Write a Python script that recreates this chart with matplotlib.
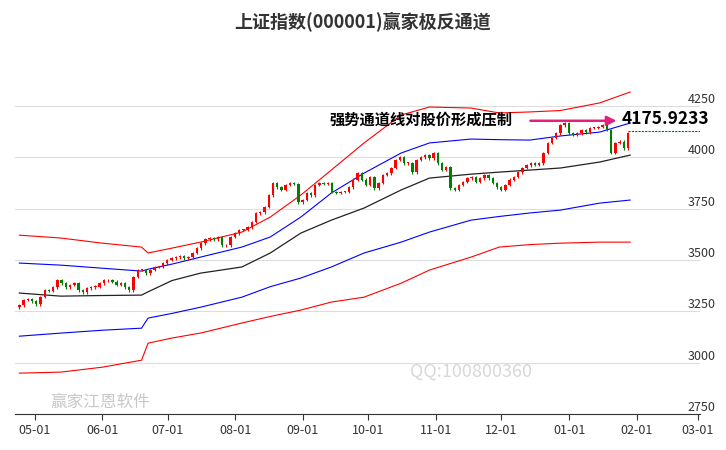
import numpy as np
import pandas as pd
import matplotlib
matplotlib.use('Agg')
import matplotlib.pyplot as plt
import matplotlib.dates as mdates

plt.rcParams['font.family'] = ['Noto Sans CJK SC', 'DejaVu Sans']

title = '上证指数(000001)赢家极反通道'
note = '强势通道线对股价形成压制'
last_label = '4175.9233'

closes = [3280, 3305, 3310, 3300, 3285, 3320, 3353, 3350, 3368, 3402, 3387, 3368, 3378, 3387, 3353,
          3343, 3363, 3368, 3370, 3387, 3402, 3402, 3395, 3378, 3387, 3368, 3353, 3417, 3451, 3451,
          3436, 3451, 3466, 3466, 3485, 3500, 3509, 3514, 3519, 3509, 3514, 3534, 3558, 3582,
          3600, 3607, 3600, 3612, 3572, 3572, 3612, 3631, 3646, 3646, 3660, 3685, 3728, 3733, 3758,
          3816, 3875, 3855, 3841, 3865, 3875, 3870, 3782, 3792, 3826, 3816, 3865, 3875, 3870, 3875,
          3831, 3826, 3831, 3831, 3855, 3890, 3923, 3890, 3865, 3904, 3850, 3875, 3914, 3923, 3948,
          3987, 4001, 3972,
          3972, 3928, 3987, 4001, 4011, 3996, 4021, 3972, 3938, 3953, 3850, 3841, 3865, 3880, 3899,
          3904, 3880, 3899, 3914, 3899, 3875, 3855, 3841, 3865, 3890, 3904, 3928, 3948, 3962, 3972,
          3965, 3972, 4021, 4070, 4094, 4118, 4157, 4167, 4118, 4109, 4118, 4133, 4123, 4143, 4143,
          4148, 4157, 4133, 4021, 4070, 4075, 4045, 4118]
first_open = 3270
last_close_line = 4128

band_dates = ['2020-04-24', '2020-05-13', '2020-06-01', '2020-06-19', '2020-06-22', '2020-07-03',
              '2020-07-16', '2020-08-04', '2020-08-17', '2020-08-31', '2020-09-14', '2020-09-29',
              '2020-10-16', '2020-10-29', '2020-11-17', '2020-11-30', '2020-12-14', '2020-12-28',
              '2021-01-15', '2021-01-29']
mid_line = [3339, 3324, 3327, 3329, 3345, 3400, 3436, 3466, 3534, 3631, 3694, 3753, 3841, 3899,
            3918, 3928, 3938, 3948, 3977, 4011]
blue_up = [3485, 3475, 3460, 3446, 3455, 3480, 3514, 3563, 3612, 3709, 3826, 3923, 4021, 4070,
           4089, 4086, 4084, 4104, 4123, 4167]
blue_lo = [3129, 3144, 3158, 3168, 3217, 3240, 3270, 3319, 3370, 3412, 3466, 3534, 3587, 3636,
           3694, 3712, 3729, 3743, 3777, 3792]
red_up = [3621, 3607, 3582, 3563, 3534, 3558, 3587, 3636, 3709, 3816, 3938, 4070, 4206, 4245,
          4240, 4216, 4221, 4228, 4265, 4318]
red_lo = [2949, 2954, 2978, 3012, 3095, 3120, 3144, 3193, 3225, 3256, 3295, 3319, 3387, 3451,
          3514, 3563, 3575, 3582, 3587, 3587]

month_ticks = ['2020-05-01', '2020-06-01', '2020-07-01', '2020-08-01', '2020-09-01', '2020-10-01',
               '2020-11-01', '2020-12-01', '2021-01-01', '2021-02-01', '2021-03-01']
yticks = [2750, 3000, 3250, 3500, 3750, 4000, 4250]

fig = plt.figure(figsize=(7.26, 4.5), dpi=100)
ax = fig.add_axes([15 / 726, 1 - 414 / 450, 685 / 726, 354 / 450])

cd = pd.date_range('2020-04-24', '2021-01-28', periods=len(closes))
cx = mdates.date2num(cd)
c = np.array(closes, float)
o = np.concatenate([[first_open], c[:-1]])
up = c >= o
col = np.where(up, '#ff0000', '#008000')
hi = np.maximum(o, c) + 7
lo = np.minimum(o, c) - 7
ax.vlines(cx, lo, hi, colors=col, lw=0.8, zorder=3)
body = np.maximum(np.abs(c - o), 3)
ax.bar(cx, body, bottom=np.minimum(o, c), width=1.1, color=col, zorder=4)

bx = mdates.date2num(pd.to_datetime(band_dates))
ax.plot(bx, mid_line, color='#222222', lw=0.9, zorder=2)
ax.plot(bx, blue_up, color='#0000ff', lw=0.8, zorder=2)
ax.plot(bx, blue_lo, color='#0000ff', lw=0.8, zorder=2)
ax.plot(bx, red_up, color='#ff0000', lw=0.8, zorder=2)
ax.plot(bx, red_lo, color='#ff0000', lw=0.8, zorder=2)

ax.hlines(last_close_line, cx[-1], mdates.date2num(pd.Timestamp('2021-03-05')),
          colors='#008000', linestyles=(0, (2, 1)), lw=0.8)

ax.set_xlim(mdates.date2num(pd.Timestamp('2020-04-22')), mdates.date2num(pd.Timestamp('2021-03-02')))
ax.set_ylim(2750, 4474)
ax.set_yticks(yticks)
ax.yaxis.tick_right()
ax.tick_params(axis='y', length=0, pad=1, labelsize=9, labelcolor='#333333')
for t in ax.get_yticklabels():
    t.set_horizontalalignment('center')
    t.set_verticalalignment('bottom')
ax.set_xticks(mdates.date2num(pd.to_datetime(month_ticks)))
ax.xaxis.set_major_formatter(mdates.DateFormatter('%m-%d'))
ax.tick_params(axis='x', length=4, labelsize=9, labelcolor='#333333', color='#333333')
ax.grid(axis='y', color='#dddddd', lw=0.8)
for s in ['top', 'left', 'right']:
    ax.spines[s].set_visible(False)
ax.spines['bottom'].set_color('#333333')

fig.text(0.5, 1 - 22 / 450, title, ha='center', va='center', fontsize=13, fontweight='bold', color='#333333')
ax.text(mdates.date2num(pd.Timestamp('2020-09-13')), 4185, note, fontsize=11, fontweight='bold', va='center')
ax.annotate('', xy=(mdates.date2num(pd.Timestamp('2021-01-24')), 4178),
            xytext=(mdates.date2num(pd.Timestamp('2020-12-13')), 4178),
            arrowprops=dict(arrowstyle='-|>', color='#e0207a', lw=1.8, mutation_scale=14))
ax.text(mdates.date2num(pd.Timestamp('2021-01-25')), 4185, last_label, fontsize=12.5,
        fontweight='bold', va='center')

fig.text(410 / 726, 1 - 372 / 450, 'QQ:100800360', fontsize=13, color='#d8d8d8', va='center', zorder=0)
fig.text(50 / 726, 1 - 402 / 450, '赢家江恩软件', fontsize=12, color='#c8c8c8', va='center', zorder=0)

fig.savefig('out.png', dpi=100)
